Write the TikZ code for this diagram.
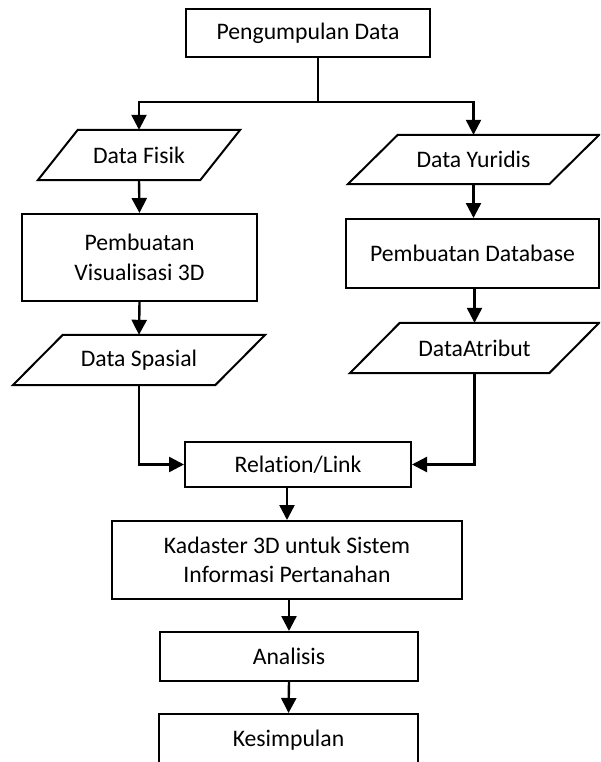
\documentclass[tikz,border=0pt]{standalone}
\usepackage{fontspec}
\setmainfont[Ligatures=NoCommon]{Carlito}
\usetikzlibrary{arrows.meta,calc}
\begin{document}
\begin{tikzpicture}[x=1pt,y=-1pt,
  box/.style={draw,line width=2pt,inner sep=0pt,align=center,
    font=\fontsize{23.7}{29.5}\selectfont},
  para/.style={inner sep=0pt,align=center,font=\fontsize{23.7}{29.5}\selectfont},
  conn/.style={line width=2.4pt,-{Triangle[width=15pt,length=15pt]}},
  plain/.style={line width=2.4pt}]
\useasboundingbox (0,0) rectangle (600,762);
\clip (0,0) rectangle (600,762);
% rectangles
\node[box,minimum width=244pt,minimum height=48pt] (pd) at (308,33) {Pengumpulan Data};
\node[box,minimum width=235pt,minimum height=87pt] (vis) at (139.5,257.5) {Pembuatan\\Visualisasi 3D};
\node[box,minimum width=253pt,minimum height=69pt] (db) at (472.5,253.5) {Pembuatan Database};
\node[box,minimum width=226pt,minimum height=45pt] (rel) at (298,464.5) {Relation/Link};
\node[box,minimum width=350pt,minimum height=78pt] (kad) at (287,560) {Kadaster 3D untuk Sistem\\Informasi Pertanahan};
\node[box,minimum width=258pt,minimum height=49pt] (ana) at (289,656.5) {Analisis};
\node[box,minimum width=259pt,minimum height=58pt,text height=0pt] (kes) at (288.5,743) {};
\node[para] (kest) at (288.5,740) {Kesimpulan};
% parallelograms (nodes carry text, outline drawn from anchors)
\node[para,minimum width=202pt,minimum height=50pt] (fisik) at (139,155) {Data Fisik};
\node[para,minimum width=251pt,minimum height=49pt] (yur) at (473.5,159.5) {Data Yuridis};
\node[para,minimum width=252pt,minimum height=50pt] (spasial) at (139,360) {Data Spasial};
\node[para,minimum width=249pt,minimum height=50pt] (atr) at (474.5,348) {DataAtribut};
\foreach \n/\s in {fisik/40,yur/50,spasial/50,atr/50}{
  \draw[line width=2pt,line join=miter] ($(\n.north west)+(\s,0)$) -- (\n.north east)
    -- ($(\n.south east)-(\s,0)$) -- (\n.south west) -- cycle;
}
% connectors
\coordinate (br) at (318,102);
\draw[plain] (pd.south -| br) -- (br);
\draw[conn] (br) -| (fisik.north);
\draw[conn] (br) -| (yur.north);
\draw[conn] (fisik.south) -- (vis.north);
\draw[conn] (yur.south) -- (db.north -| yur.south);
\draw[conn] (vis.south) -- (spasial.north);
\draw[conn] (db.south -| atr.north) -- (atr.north);
\draw[conn] (spasial.south) |- (rel.west);
\draw[conn] (atr.south) |- (rel.east);
\draw[conn] (kad.north |- rel.south) -- (kad.north);
\draw[conn] (ana.north |- kad.south) -- (ana.north);
\draw[conn] (ana.south) -- (kes.north);
\end{tikzpicture}
\end{document}
